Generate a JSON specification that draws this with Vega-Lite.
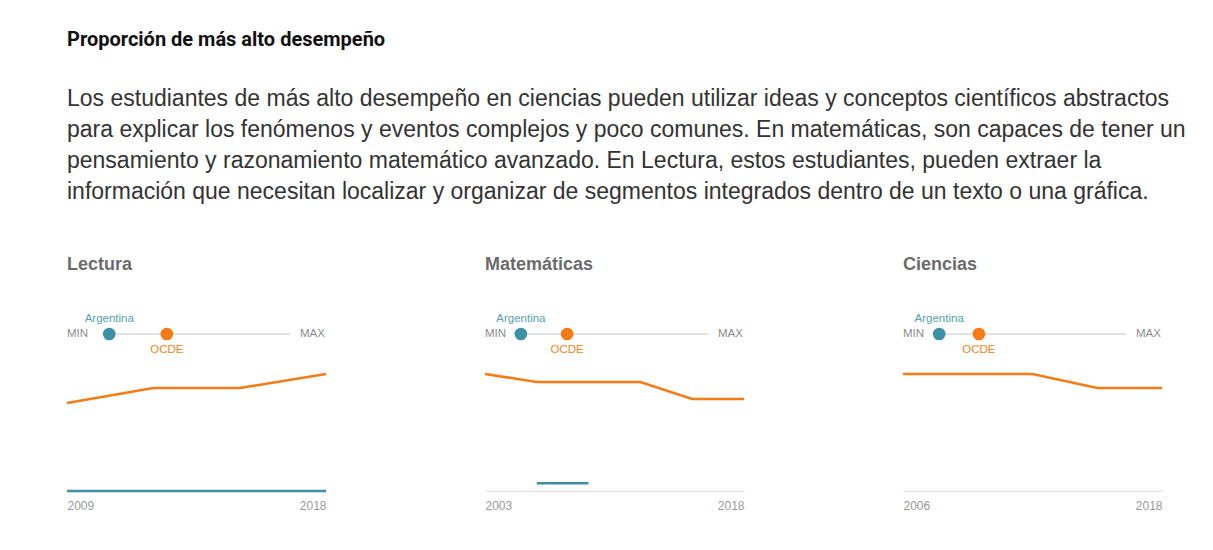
{
  "$schema": "https://vega.github.io/schema/vega-lite/v6.json",
  "background": "white",
  "padding": {"left": 62, "top": 30, "right": 10, "bottom": 10},
  "title": {
    "text": "Proporción de más alto desempeño",
    "subtitle": [
      "Los estudiantes de más alto desempeño en ciencias pueden utilizar ideas y conceptos científicos abstractos",
      "para explicar los fenómenos y eventos complejos y poco comunes. En matemáticas, son capaces de tener un",
      "pensamiento y razonamiento matemático avanzado. En Lectura, estos estudiantes, pueden extraer la",
      "información que necesitan localizar y organizar de segmentos integrados dentro de un texto o una gráfica."
    ],
    "anchor": "start",
    "frame": "group",
    "font": "Roboto",
    "fontSize": 20,
    "fontWeight": "bold",
    "color": "#111111",
    "subtitleFont": "Liberation Sans",
    "subtitleFontSize": 23,
    "subtitleColor": "#333333",
    "subtitleLineHeight": 31,
    "subtitlePadding": 38,
    "offset": 52
  },
  "datasets": {
    "rango": [
      {"materia": "Lectura", "min": 0, "max": 25.8},
      {"materia": "Matemáticas", "min": 0, "max": 44.3},
      {"materia": "Ciencias", "min": 0, "max": 31.7}
    ],
    "posicion": [
      {"materia": "Lectura", "grupo": "Argentina", "valor": 1.0},
      {"materia": "Lectura", "grupo": "OCDE", "valor": 8.9},
      {"materia": "Matemáticas", "grupo": "Argentina", "valor": 0.2},
      {"materia": "Matemáticas", "grupo": "OCDE", "valor": 11.1},
      {"materia": "Ciencias", "grupo": "Argentina", "valor": 0.2},
      {"materia": "Ciencias", "grupo": "OCDE", "valor": 6.9}
    ],
    "serie": [
      {"materia": "Lectura", "grupo": "Argentina", "anio": 2009, "valor": 0},
      {"materia": "Lectura", "grupo": "Argentina", "anio": 2012, "valor": 0},
      {"materia": "Lectura", "grupo": "Argentina", "anio": 2015, "valor": 0},
      {"materia": "Lectura", "grupo": "Argentina", "anio": 2018, "valor": 0},
      {"materia": "Lectura", "grupo": "OCDE", "anio": 2009, "valor": 6.77},
      {"materia": "Lectura", "grupo": "OCDE", "anio": 2012, "valor": 7.92},
      {"materia": "Lectura", "grupo": "OCDE", "anio": 2015, "valor": 7.92},
      {"materia": "Lectura", "grupo": "OCDE", "anio": 2018, "valor": 9.0},
      {"materia": "Matemáticas", "grupo": "Argentina", "anio": 2006, "valor": 0.6},
      {"materia": "Matemáticas", "grupo": "Argentina", "anio": 2009, "valor": 0.6},
      {"materia": "Matemáticas", "grupo": "OCDE", "anio": 2003, "valor": 9.0},
      {"materia": "Matemáticas", "grupo": "OCDE", "anio": 2006, "valor": 8.38},
      {"materia": "Matemáticas", "grupo": "OCDE", "anio": 2009, "valor": 8.38},
      {"materia": "Matemáticas", "grupo": "OCDE", "anio": 2012, "valor": 8.38},
      {"materia": "Matemáticas", "grupo": "OCDE", "anio": 2015, "valor": 7.08},
      {"materia": "Matemáticas", "grupo": "OCDE", "anio": 2018, "valor": 7.08},
      {"materia": "Ciencias", "grupo": "OCDE", "anio": 2006, "valor": 9.0},
      {"materia": "Ciencias", "grupo": "OCDE", "anio": 2009, "valor": 9.0},
      {"materia": "Ciencias", "grupo": "OCDE", "anio": 2012, "valor": 9.0},
      {"materia": "Ciencias", "grupo": "OCDE", "anio": 2015, "valor": 7.92},
      {"materia": "Ciencias", "grupo": "OCDE", "anio": 2018, "valor": 7.92}
    ]
  },
  "spacing": 149,
  "resolve": {"scale": {"x": "independent", "y": "independent"}},
  "hconcat": [
    {
      "bounds": "flush",
      "spacing": 2,
      "resolve": {"scale": {"x": "independent", "y": "independent"}},
      "vconcat": [
        {
          "width": 259,
          "height": 50,
          "title": {"text": "Lectura", "anchor": "start", "font": "Liberation Sans", "fontSize": 18, "fontWeight": "bold", "color": "#6b6b6b", "baseline": "alphabetic", "offset": 21},
          "encoding": {"y": {"datum": 0, "type": "quantitative", "scale": {"domain": [-1, 1]}, "axis": null}},
          "layer": [
            {"data": {"name": "rango"}, "transform": [{"filter": "datum.materia === 'Lectura'"}], "mark": {"type": "rule", "color": "#e3e3e3", "strokeWidth": 2}, "encoding": {"x": {"field": "min", "type": "quantitative", "scale": {"domain": [-4.80, 30.74], "nice": false, "zero": false}, "axis": null}, "x2": {"field": "max"}}},
            {"data": {"name": "rango"}, "transform": [{"filter": "datum.materia === 'Lectura'"}], "mark": {"type": "text", "text": "MIN", "align": "right", "baseline": "middle", "dx": -14, "font": "Liberation Sans", "fontSize": 11.5, "color": "#8c8c8c"}, "encoding": {"x": {"field": "min", "type": "quantitative"}}},
            {"data": {"name": "rango"}, "transform": [{"filter": "datum.materia === 'Lectura'"}], "mark": {"type": "text", "text": "MAX", "align": "left", "baseline": "middle", "dx": 10, "font": "Liberation Sans", "fontSize": 11.5, "color": "#8c8c8c"}, "encoding": {"x": {"field": "max", "type": "quantitative"}}},
            {"data": {"name": "posicion"}, "transform": [{"filter": "datum.materia === 'Lectura'"}], "mark": {"type": "circle", "size": 160, "opacity": 1}, "encoding": {"x": {"field": "valor", "type": "quantitative"}, "color": {"field": "grupo", "type": "nominal", "scale": {"domain": ["Argentina", "OCDE"], "range": ["#3d90a5", "#f67b14"]}, "legend": null}}},
            {"data": {"name": "posicion"}, "transform": [{"filter": "datum.materia === 'Lectura' && datum.grupo === 'Argentina'"}], "mark": {"type": "text", "dy": -15, "baseline": "middle", "font": "Liberation Sans", "fontSize": 11.5, "color": "#56a0b3"}, "encoding": {"x": {"field": "valor", "type": "quantitative"}, "text": {"field": "grupo"}}},
            {"data": {"name": "posicion"}, "transform": [{"filter": "datum.materia === 'Lectura' && datum.grupo === 'OCDE'"}], "mark": {"type": "text", "dy": 16, "baseline": "middle", "font": "Liberation Sans", "fontSize": 11.5, "color": "#f58523"}, "encoding": {"x": {"field": "valor", "type": "quantitative"}, "text": {"field": "grupo"}}}
          ]
        },
        {
          "width": 259,
          "height": 130,
          "data": {"name": "serie"},
          "transform": [{"filter": "datum.materia === 'Lectura'"}],
          "mark": {"type": "line", "strokeWidth": 2.5},
          "encoding": {
            "x": {"field": "anio", "type": "quantitative", "scale": {"domain": [2009, 2018], "nice": false, "zero": false}, "axis": {"values": [2009, 2018], "format": "d", "labelFlush": true, "ticks": false, "grid": false, "title": null, "domainColor": "#e6e6e6", "domainWidth": 1.5, "labelColor": "#9a9a9a", "labelFontSize": 12, "labelFont": "Liberation Sans", "labelPadding": 9}},
            "y": {"field": "valor", "type": "quantitative", "scale": {"domain": [0, 10]}, "axis": null},
            "color": {"field": "grupo", "type": "nominal", "scale": {"domain": ["Argentina", "OCDE"], "range": ["#3d90a5", "#f67b14"]}, "legend": null}
          }
        }
      ]
    },
    {
      "bounds": "flush",
      "spacing": 2,
      "resolve": {"scale": {"x": "independent", "y": "independent"}},
      "vconcat": [
        {
          "width": 259,
          "height": 50,
          "title": {"text": "Matemáticas", "anchor": "start", "font": "Liberation Sans", "fontSize": 18, "fontWeight": "bold", "color": "#6b6b6b", "baseline": "alphabetic", "offset": 21},
          "encoding": {"y": {"datum": 0, "type": "quantitative", "scale": {"domain": [-1, 1]}, "axis": null}},
          "layer": [
            {"data": {"name": "rango"}, "transform": [{"filter": "datum.materia === 'Matemáticas'"}], "mark": {"type": "rule", "color": "#e3e3e3", "strokeWidth": 2}, "encoding": {"x": {"field": "min", "type": "quantitative", "scale": {"domain": [-8.25, 52.78], "nice": false, "zero": false}, "axis": null}, "x2": {"field": "max"}}},
            {"data": {"name": "rango"}, "transform": [{"filter": "datum.materia === 'Matemáticas'"}], "mark": {"type": "text", "text": "MIN", "align": "right", "baseline": "middle", "dx": -14, "font": "Liberation Sans", "fontSize": 11.5, "color": "#8c8c8c"}, "encoding": {"x": {"field": "min", "type": "quantitative"}}},
            {"data": {"name": "rango"}, "transform": [{"filter": "datum.materia === 'Matemáticas'"}], "mark": {"type": "text", "text": "MAX", "align": "left", "baseline": "middle", "dx": 10, "font": "Liberation Sans", "fontSize": 11.5, "color": "#8c8c8c"}, "encoding": {"x": {"field": "max", "type": "quantitative"}}},
            {"data": {"name": "posicion"}, "transform": [{"filter": "datum.materia === 'Matemáticas'"}], "mark": {"type": "circle", "size": 160, "opacity": 1}, "encoding": {"x": {"field": "valor", "type": "quantitative"}, "color": {"field": "grupo", "type": "nominal", "scale": {"domain": ["Argentina", "OCDE"], "range": ["#3d90a5", "#f67b14"]}, "legend": null}}},
            {"data": {"name": "posicion"}, "transform": [{"filter": "datum.materia === 'Matemáticas' && datum.grupo === 'Argentina'"}], "mark": {"type": "text", "dy": -15, "baseline": "middle", "font": "Liberation Sans", "fontSize": 11.5, "color": "#56a0b3"}, "encoding": {"x": {"field": "valor", "type": "quantitative"}, "text": {"field": "grupo"}}},
            {"data": {"name": "posicion"}, "transform": [{"filter": "datum.materia === 'Matemáticas' && datum.grupo === 'OCDE'"}], "mark": {"type": "text", "dy": 16, "baseline": "middle", "font": "Liberation Sans", "fontSize": 11.5, "color": "#f58523"}, "encoding": {"x": {"field": "valor", "type": "quantitative"}, "text": {"field": "grupo"}}}
          ]
        },
        {
          "width": 259,
          "height": 130,
          "data": {"name": "serie"},
          "transform": [{"filter": "datum.materia === 'Matemáticas'"}],
          "mark": {"type": "line", "strokeWidth": 2.5},
          "encoding": {
            "x": {"field": "anio", "type": "quantitative", "scale": {"domain": [2003, 2018], "nice": false, "zero": false}, "axis": {"values": [2003, 2018], "format": "d", "labelFlush": true, "ticks": false, "grid": false, "title": null, "domainColor": "#e6e6e6", "domainWidth": 1.5, "labelColor": "#9a9a9a", "labelFontSize": 12, "labelFont": "Liberation Sans", "labelPadding": 9}},
            "y": {"field": "valor", "type": "quantitative", "scale": {"domain": [0, 10]}, "axis": null},
            "color": {"field": "grupo", "type": "nominal", "scale": {"domain": ["Argentina", "OCDE"], "range": ["#3d90a5", "#f67b14"]}, "legend": null}
          }
        }
      ]
    },
    {
      "bounds": "flush",
      "spacing": 2,
      "resolve": {"scale": {"x": "independent", "y": "independent"}},
      "vconcat": [
        {
          "width": 259,
          "height": 50,
          "title": {"text": "Ciencias", "anchor": "start", "font": "Liberation Sans", "fontSize": 18, "fontWeight": "bold", "color": "#6b6b6b", "baseline": "alphabetic", "offset": 21},
          "encoding": {"y": {"datum": 0, "type": "quantitative", "scale": {"domain": [-1, 1]}, "axis": null}},
          "layer": [
            {"data": {"name": "rango"}, "transform": [{"filter": "datum.materia === 'Ciencias'"}], "mark": {"type": "rule", "color": "#e3e3e3", "strokeWidth": 2}, "encoding": {"x": {"field": "min", "type": "quantitative", "scale": {"domain": [-5.90, 37.77], "nice": false, "zero": false}, "axis": null}, "x2": {"field": "max"}}},
            {"data": {"name": "rango"}, "transform": [{"filter": "datum.materia === 'Ciencias'"}], "mark": {"type": "text", "text": "MIN", "align": "right", "baseline": "middle", "dx": -14, "font": "Liberation Sans", "fontSize": 11.5, "color": "#8c8c8c"}, "encoding": {"x": {"field": "min", "type": "quantitative"}}},
            {"data": {"name": "rango"}, "transform": [{"filter": "datum.materia === 'Ciencias'"}], "mark": {"type": "text", "text": "MAX", "align": "left", "baseline": "middle", "dx": 10, "font": "Liberation Sans", "fontSize": 11.5, "color": "#8c8c8c"}, "encoding": {"x": {"field": "max", "type": "quantitative"}}},
            {"data": {"name": "posicion"}, "transform": [{"filter": "datum.materia === 'Ciencias'"}], "mark": {"type": "circle", "size": 160, "opacity": 1}, "encoding": {"x": {"field": "valor", "type": "quantitative"}, "color": {"field": "grupo", "type": "nominal", "scale": {"domain": ["Argentina", "OCDE"], "range": ["#3d90a5", "#f67b14"]}, "legend": null}}},
            {"data": {"name": "posicion"}, "transform": [{"filter": "datum.materia === 'Ciencias' && datum.grupo === 'Argentina'"}], "mark": {"type": "text", "dy": -15, "baseline": "middle", "font": "Liberation Sans", "fontSize": 11.5, "color": "#56a0b3"}, "encoding": {"x": {"field": "valor", "type": "quantitative"}, "text": {"field": "grupo"}}},
            {"data": {"name": "posicion"}, "transform": [{"filter": "datum.materia === 'Ciencias' && datum.grupo === 'OCDE'"}], "mark": {"type": "text", "dy": 16, "baseline": "middle", "font": "Liberation Sans", "fontSize": 11.5, "color": "#f58523"}, "encoding": {"x": {"field": "valor", "type": "quantitative"}, "text": {"field": "grupo"}}}
          ]
        },
        {
          "width": 259,
          "height": 130,
          "data": {"name": "serie"},
          "transform": [{"filter": "datum.materia === 'Ciencias'"}],
          "mark": {"type": "line", "strokeWidth": 2.5},
          "encoding": {
            "x": {"field": "anio", "type": "quantitative", "scale": {"domain": [2006, 2018], "nice": false, "zero": false}, "axis": {"values": [2006, 2018], "format": "d", "labelFlush": true, "ticks": false, "grid": false, "title": null, "domainColor": "#e6e6e6", "domainWidth": 1.5, "labelColor": "#9a9a9a", "labelFontSize": 12, "labelFont": "Liberation Sans", "labelPadding": 9}},
            "y": {"field": "valor", "type": "quantitative", "scale": {"domain": [0, 10]}, "axis": null},
            "color": {"field": "grupo", "type": "nominal", "scale": {"domain": ["Argentina", "OCDE"], "range": ["#3d90a5", "#f67b14"]}, "legend": null}
          }
        }
      ]
    }
  ],
  "config": {
    "view": {"stroke": null}
  }
}
